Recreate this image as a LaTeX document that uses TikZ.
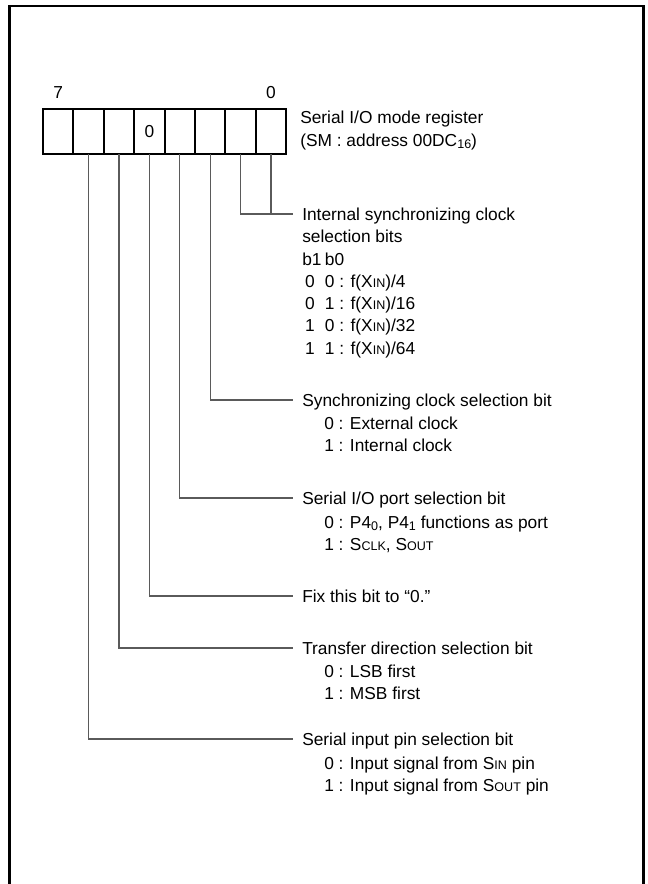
\documentclass[tikz,border=0pt]{standalone}
\usepackage{fontspec}
\setmainfont{Liberation Sans}
\usetikzlibrary{positioning}
\definecolor{cellline}{HTML}{000000}
\definecolor{leadline}{HTML}{5A5A5A}
\newcommand\pinsc[1]{{\fontsize{9.4pt}{9.4pt}\selectfont #1}}
\newcommand\regsub[1]{\raisebox{-1.6pt}{\fontsize{9.4pt}{9.4pt}\selectfont #1}}
\newcommand\bitpair[2]{\makebox[17pt][l]{\hspace{2.2pt}#1}#2}
\tikzset{
  bitcell/.style = {rectangle, draw=cellline, line width=1.4pt, minimum width=22.8pt,
                    minimum height=33.75pt, inner sep=0pt, outer sep=0pt,
                    font=\fontsize{13pt}{16.7pt}\selectfont},
  bitnum/.style  = {inner sep=0pt, font=\fontsize{13pt}{16.7pt}\selectfont},
  head/.style    = {anchor=west, inner xsep=6.75pt, inner ysep=0pt, text height=9.4pt,
                    text depth=0pt, font=\fontsize{13pt}{16.7pt}\selectfont},
  % base of a multi-line body is its last line
  body/.style    = {anchor=base west, align=left, inner sep=0pt,
                    font=\fontsize{13pt}{16.7pt}\selectfont},
  lead/.style    = {draw=leadline, line width=0.8pt},
  boxline/.style = {draw=cellline, line width=1.9pt},
}

\begin{document}
\begin{tikzpicture}[x=0.75pt, y=-0.75pt]
        \useasboundingbox (0,0) rectangle (648,884);
        \draw[boxline] (9.5,890) |- (643.5,6) -- (643.5,890);

        % register cells, b7 on the left
        \node[bitcell] (b7) at (58.2,131.5) {};
        \node[bitcell, right=0pt of b7] (b6) {};
        \node[bitcell, right=0pt of b6] (b5) {};
        \node[bitcell, right=0pt of b5] (b4) {0};
        \node[bitcell, right=0pt of b4] (b3) {};
        \node[bitcell, right=0pt of b3] (b2) {};
        \node[bitcell, right=0pt of b2] (b1) {};
        \node[bitcell, right=0pt of b1] (b0) {};
        \node[bitnum, above=7.5pt of b7] (n7) {7};
        \node[bitnum, above=7.5pt of b0] (n0) {0};

        \node[head] (smname) at (291,117) {Serial I/O mode register};
        \node[body] (smaddr) at ([shift={(9,23)}]smname.base west) {(SM : address 00DC\regsub{16})};

        % bit descriptions
        \node[head] (isc) at (293,214) {Internal synchronizing clock};
        \node[body] (iscsel) at ([shift={(9,133.8)}]isc.base west)
              {selection bits\\ \makebox[17pt][l]{b1}b0\\
               \bitpair{0}{0} : f(X\pinsc{IN})/4\\
               \bitpair{0}{1} : f(X\pinsc{IN})/16\\
               \bitpair{1}{0} : f(X\pinsc{IN})/32\\
               \bitpair{1}{1} : f(X\pinsc{IN})/64};
        \node[head] (sck) at (293,400) {Synchronizing clock selection bit};
        \node[body] (sckval) at ([shift={(31,45.5)}]sck.base west)
              {0 : External clock\\1 : Internal clock};
        \node[head] (port) at (293,498) {Serial I/O port selection bit};
        \node[body] (portval) at ([shift={(31,46.5)}]port.base west)
              {0 : P4\regsub{0}, P4\regsub{1} functions as port\\1 : S\pinsc{CLK}, S\pinsc{OUT}};
        \node[head] (fix) at (293,596) {Fix this bit to “0.”};
        \node[head] (dir) at (293,648) {Transfer direction selection bit};
        \node[body] (dirval) at ([shift={(31,45.5)}]dir.base west)
              {0 : LSB first\\1 : MSB first};
        \node[head] (sin) at (293,739) {Serial input pin selection bit};
        \node[body] (sinval) at ([shift={(31,46.5)}]sin.base west)
              {0 : Input signal from S\pinsc{IN} pin\\1 : Input signal from S\pinsc{OUT} pin};

        \draw[lead] (b1.south) |- (isc.west);
        \draw[lead] (b0.south) -- (b0.south |- isc.west);
        \draw[lead] (b2.south) |- (sck.west);
        \draw[lead] (b3.south) |- (port.west);
        \draw[lead] (b4.south) |- (fix.west);
        \draw[lead] (b5.south) |- (dir.west);
        \draw[lead] (b6.south) |- (sin.west);
    \end{tikzpicture}
\end{document}
